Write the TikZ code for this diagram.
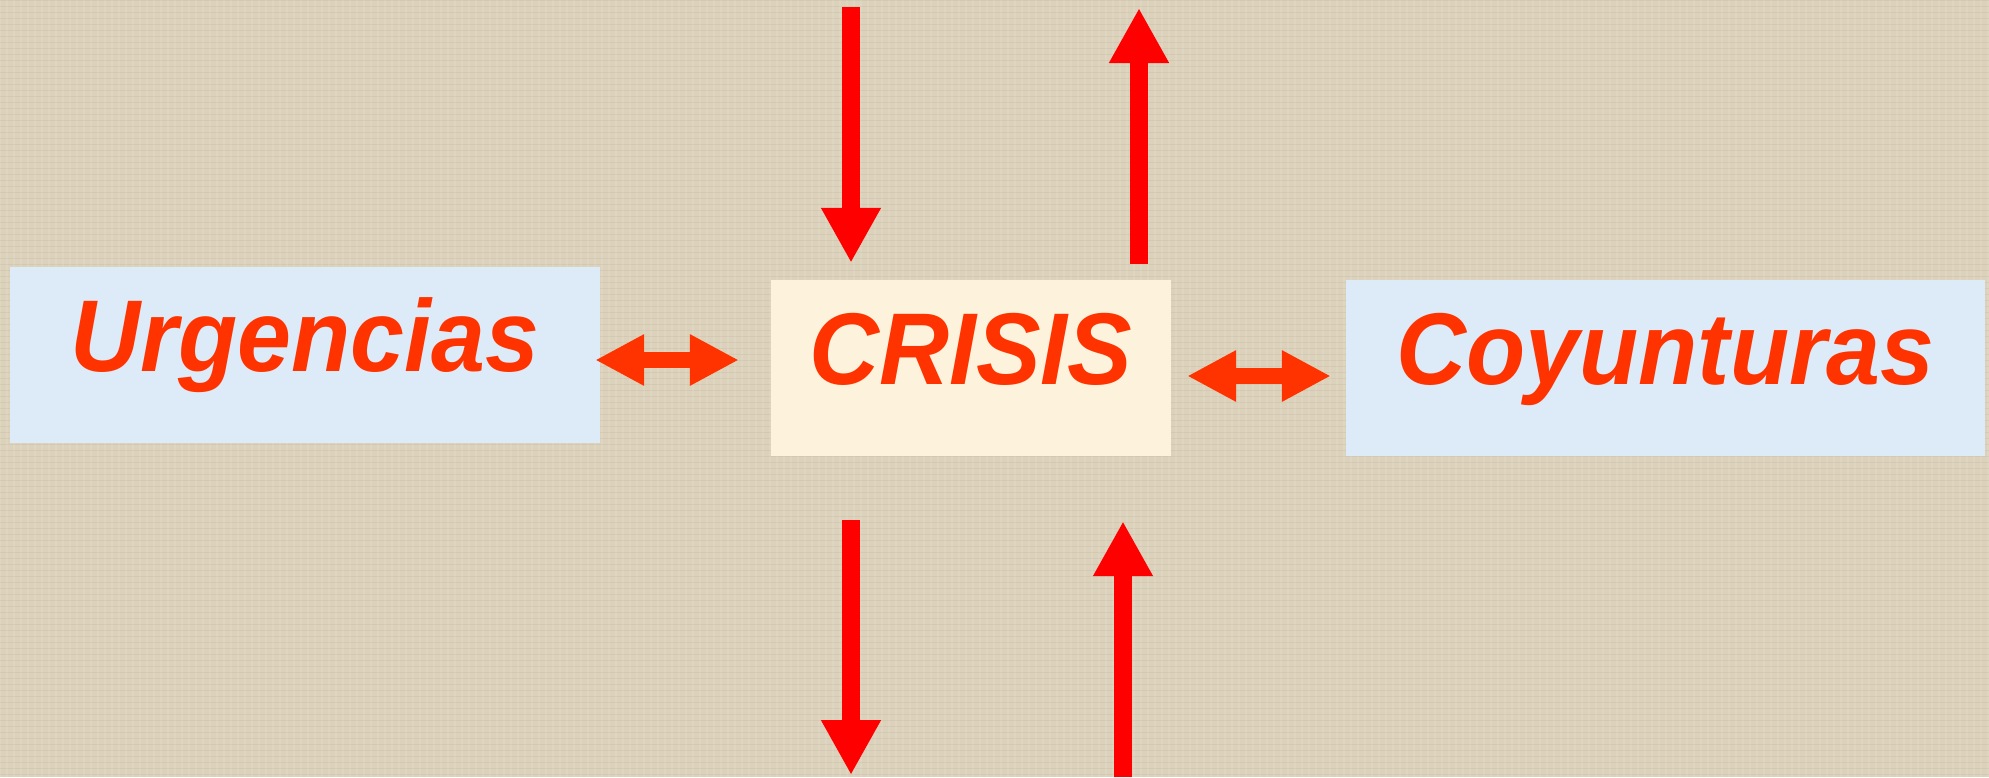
\documentclass[tikz,border=0pt]{standalone}
\usepackage{fontspec}
\setmainfont{Liberation Sans}
\newfontfamily\boxfont[FakeStretch=0.95]{Liberation Sans}
\usetikzlibrary{arrows.meta}
\definecolor{bg}{HTML}{DCD2BC}
\definecolor{boxblue}{HTML}{DDEAF8}
\definecolor{boxcream}{HTML}{FDF2DC}
\definecolor{txt}{HTML}{FF3300}
\definecolor{arr}{HTML}{FF0000}
\begin{document}
\begin{tikzpicture}[x=1pt,y=-1pt,
  box/.style={rectangle, inner sep=0pt, minimum height=176pt, text height=70pt, text depth=38pt,
    font=\boxfont\fontsize{102}{106}\selectfont\bfseries\itshape, text=txt},
  vblock/.style={draw=arr, line width=18pt, -{Triangle[length=55pt,width=56pt]}},
  hblock/.style={draw=txt, line width=16pt, {Triangle[length=49pt,width=48pt]}-{Triangle[length=49pt,width=48pt]}}]
\fill[bg] (0,0) rectangle (1989,777);
\useasboundingbox (0,0) rectangle (1989,777);
\foreach \i in {0,7,...,1989} {\draw[white, opacity=0.10, line width=1.2pt] (\i,0) -- (\i,777);}
\foreach \j in {0,6,...,777} {\draw[black!60!brown, opacity=0.06, line width=1pt] (0,\j) -- (1989,\j);}

\node[box, fill=boxblue, minimum width=590pt] (urg) at (305,355) {Urgencias};
\node[box, fill=boxcream, minimum width=400pt] (cri) at (971,368) {CRISIS};
\node[box, fill=boxblue, minimum width=639pt] (coy) at (1665.5,368) {Coyunturas};

\coordinate (topin) at (851,7);
\coordinate (topout) at (1139,8);
\coordinate (botout) at (851,775);
\coordinate (botin) at (1123,777);

\draw[hblock] ([shift={(-5,5)}]urg.east) -- ([shift={(-32,-8)}]cri.west);
\draw[hblock] ([shift={(16,8)}]cri.east) -- ([shift={(-15,8)}]coy.west);

\draw[vblock] (topin) -- ([shift={(-120,-17)}]cri.north);
\draw[vblock] ([shift={(168,-16)}]cri.north) -- (topout);
\draw[vblock] ([shift={(-120,64)}]cri.south) -- (botout);
\draw[vblock] (botin) -- ([shift={(152,65)}]cri.south);
\end{tikzpicture}
\end{document}
